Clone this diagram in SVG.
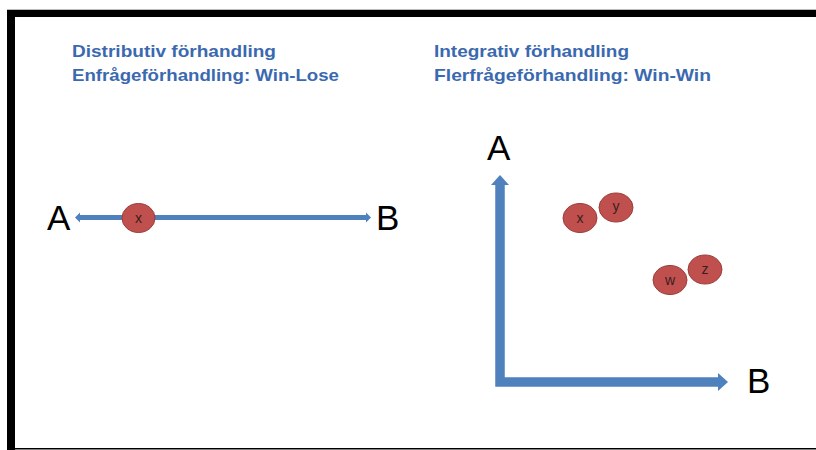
<svg xmlns="http://www.w3.org/2000/svg" width="816" height="450" viewBox="0 0 816 450">
<style>
.title{font-family:"Liberation Sans",Arial,sans-serif;font-weight:bold;font-size:17px;fill:#3B69B0}
.axis{font-family:"Liberation Sans",Arial,sans-serif;font-size:35px;fill:#000}
.dot{fill:#C0504D;stroke:#9A3E3B;stroke-width:1}
.lbl{font-family:"Liberation Sans",Arial,sans-serif;font-size:14px;fill:#3a1f1f;text-anchor:middle}
.conn{fill:none;stroke:#4F81BD;stroke-linejoin:miter}
</style>
<defs>
<marker id="bigHead" markerUnits="userSpaceOnUse" markerWidth="11" markerHeight="20" refX="0" refY="9" orient="auto-start-reverse" viewBox="0 0 11 18">
<path d="M0,0 L10,9 L0,18 z" fill="#4F81BD"/>
</marker>
<marker id="smallHead" markerUnits="userSpaceOnUse" markerWidth="6" markerHeight="11" refX="0" refY="5" orient="auto-start-reverse" viewBox="0 0 6 10">
<path d="M0,0 L5,5 L0,10 z" fill="#4F81BD"/>
</marker>
</defs>
<rect x="0" y="0" width="816" height="450" fill="#fff"/>
<g id="frame">
<rect x="7" y="9" width="809" height="1" fill="#bbbbbb"/>
<rect x="7" y="10" width="809" height="7" fill="#000"/>
<rect x="7" y="10" width="8" height="440" fill="#000"/>
<rect x="15" y="448" width="801" height="1.5" fill="#000"/>
</g>
<g id="titles">
<text class="title" x="72" y="57" textLength="204" lengthAdjust="spacingAndGlyphs">Distributiv förhandling</text>
<text class="title" x="72" y="81" textLength="267" lengthAdjust="spacingAndGlyphs">Enfrågeförhandling: Win-Lose</text>
<text class="title" x="434" y="57" textLength="195" lengthAdjust="spacingAndGlyphs">Integrativ förhandling</text>
<text class="title" x="434" y="81" textLength="277" lengthAdjust="spacingAndGlyphs">Flerfrågeförhandling: Win-Win</text>
</g>
<g id="connectors">
<path class="conn" d="M80,217.5 H366" stroke-width="5" marker-start="url(#smallHead)" marker-end="url(#smallHead)"/>
<path class="conn" d="M500,185 V382 H718" stroke-width="9.5" marker-start="url(#bigHead)" marker-end="url(#bigHead)"/>
</g>
<g id="axis-labels">
<text class="axis" x="47" y="230">A</text>
<text class="axis" x="376" y="230">B</text>
<text class="axis" x="487" y="160">A</text>
<text class="axis" x="747" y="393">B</text>
</g>
<g id="node-x-left"><ellipse class="dot" cx="138.5" cy="218" rx="16.5" ry="14.5"/><text class="lbl" x="138.5" y="223">x</text></g>
<g id="node-x"><ellipse class="dot" cx="580" cy="218" rx="17" ry="14.5"/><text class="lbl" x="580" y="223">x</text></g>
<g id="node-y"><ellipse class="dot" cx="616" cy="207.5" rx="17" ry="14.5"/><text class="lbl" x="616" y="211">y</text></g>
<g id="node-w"><ellipse class="dot" cx="670" cy="280" rx="17" ry="14.5"/><text class="lbl" x="670" y="285">w</text></g>
<g id="node-z"><ellipse class="dot" cx="705" cy="269.5" rx="17" ry="14.5"/><text class="lbl" x="705" y="274">z</text></g>
</svg>
